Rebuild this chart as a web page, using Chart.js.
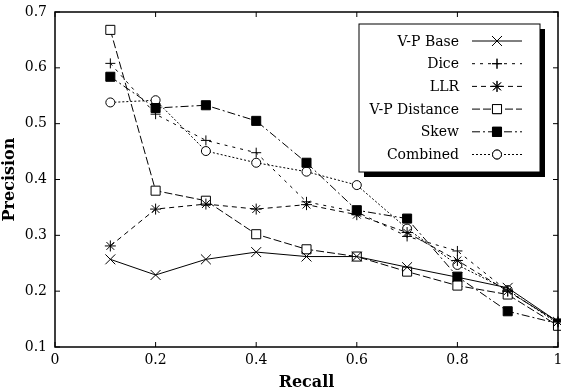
<!DOCTYPE html>
<html>
<head>
<meta charset="utf-8">
<script src="https://cdn.jsdelivr.net/npm/chart.js@4/dist/chart.umd.min.js"></script>
<style>
  html, body { margin: 0; padding: 0; background: #fff; }
  #wrap { width: 561px; height: 392px; }
</style>
</head>
<body>
<div id="wrap"><canvas id="c" width="561" height="392"></canvas></div>
<script>
// values
const recall = [0.11, 0.2, 0.3, 0.4, 0.5, 0.6, 0.7, 0.8, 0.9, 1.0];
const vpBase = [0.257, 0.229, 0.257, 0.270, 0.262, 0.262, 0.243, 0.225, 0.206, 0.145];
const dice = [0.608, 0.517, 0.470, 0.448, 0.360, 0.342, 0.298, 0.272, 0.200, 0.145];
const llr = [0.281, 0.347, 0.356, 0.347, 0.355, 0.337, 0.305, 0.255, 0.200, 0.145];
const vpDistance = [0.668, 0.380, 0.362, 0.302, 0.275, 0.262, 0.235, 0.210, 0.194, 0.138];
const skew = [0.584, 0.528, 0.533, 0.505, 0.430, 0.345, 0.330, 0.226, 0.164, 0.142];
const combined = [0.538, 0.542, 0.451, 0.430, 0.414, 0.390, 0.312, 0.247, 0.202, 0.142];

const seriesNames = ['V-P Base', 'Dice', 'LLR', 'V-P Distance', 'Skew', 'Combined'];
const xTicks = [0, 0.2, 0.4, 0.6, 0.8, 1];
const yTicks = [0.1, 0.2, 0.3, 0.4, 0.5, 0.6, 0.7];

const FONT = '"DejaVu Serif", "Liberation Serif", serif';

const pts = ys => recall.map((r, i) => ({ x: r, y: ys[i] }));

function ds(label, ys, style, radius, fill, dash) {
  return {
    label, data: pts(ys),
    borderColor: '#000', borderWidth: 1, borderDash: dash,
    pointStyle: style, pointRadius: radius, pointBorderWidth: 1,
    pointBackgroundColor: fill, pointBorderColor: '#000',
    tension: 0, fill: false, clip: false
  };
}

const datasets = [
  ds(seriesNames[0], vpBase, 'crossRot', 7, '#000', []),
  ds(seriesNames[1], dice, 'cross', 5, '#000', [3, 5]),
  ds(seriesNames[2], llr, 'star', 5.5, '#000', [5, 4]),
  ds(seriesNames[3], vpDistance, 'rect', 6.4, '#fff', [8, 3]),
  ds(seriesNames[4], skew, 'rect', 6.4, '#000', [8, 3, 2, 3]),
  ds(seriesNames[5], combined, 'circle', 4.5, '#fff', [2, 2])
];

// inward ticks + top/right frame, and the boxed legend with drop shadow
const framePlugin = {
  id: 'frame',
  afterDraw(chart) {
    const { ctx, chartArea: a, scales } = chart;
    ctx.save();
    ctx.strokeStyle = '#000';
    ctx.lineWidth = 1.5;
    ctx.setLineDash([]);
    ctx.strokeRect(a.left, a.top, a.right - a.left, a.bottom - a.top);
    ctx.lineWidth = 1;
    ctx.beginPath();
    xTicks.forEach(v => {
      const x = scales.x.getPixelForValue(v);
      ctx.moveTo(x, a.bottom); ctx.lineTo(x, a.bottom - 5);
      ctx.moveTo(x, a.top); ctx.lineTo(x, a.top + 5);
    });
    yTicks.forEach(v => {
      const y = scales.y.getPixelForValue(v);
      ctx.moveTo(a.left, y); ctx.lineTo(a.left + 5, y);
      ctx.moveTo(a.right, y); ctx.lineTo(a.right - 5, y);
    });
    ctx.stroke();

    // legend
    const bx = 359, by = 24, bw = 181, bh = 148;
    ctx.fillStyle = '#000';
    ctx.fillRect(bx + 5, by + 5, bw, bh);
    ctx.fillStyle = '#fff';
    ctx.fillRect(bx, by, bw, bh);
    ctx.lineWidth = 1;
    ctx.strokeRect(bx, by, bw, bh);
    ctx.font = '14px ' + FONT;
    ctx.textAlign = 'right';
    ctx.textBaseline = 'middle';
    chart.data.datasets.forEach((d, i) => {
      const y = 41 + i * 22.7;
      ctx.fillStyle = '#000';
      ctx.fillText(d.label, 459, y + 1);
      ctx.beginPath();
      ctx.setLineDash(d.borderDash);
      ctx.lineWidth = 1;
      ctx.moveTo(472, y); ctx.lineTo(522, y);
      ctx.stroke();
      ctx.setLineDash([]);
      ctx.fillStyle = d.pointBackgroundColor;
      Chart.helpers.drawPoint(ctx, {
        pointStyle: d.pointStyle, radius: d.pointRadius, borderWidth: 1, rotation: 0
      }, 497, y);
      if (d.pointStyle === 'rect' || d.pointStyle === 'circle') ctx.fill();
      ctx.stroke();
    });
    ctx.restore();
  }
};

new Chart(document.getElementById('c'), {
  type: 'line',
  data: { datasets },
  options: {
    responsive: false,
    animation: false,
    layout: { autoPadding: false, padding: { top: 12, right: 3, left: 0, bottom: 0 } },
    plugins: { legend: { display: false }, tooltip: { enabled: false } },
    scales: {
      x: {
        type: 'linear', min: 0, max: 1,
        afterFit(s) { s.height = 45; s.paddingRight = 0; s.paddingLeft = 0; },
        afterBuildTicks(s) { s.ticks = xTicks.map(v => ({ value: v })); },
        grid: { drawOnChartArea: false, drawTicks: false },
        border: { display: false },
        ticks: {
          padding: 5, color: '#000', maxRotation: 0,
          font: { family: FONT, size: 14 },
          callback: v => String(v)
        },
        title: {
          display: true, text: 'Recall', color: '#000', padding: { top: 0, bottom: 0 },
          font: { family: FONT, size: 16, weight: 'bold' }
        }
      },
      y: {
        min: 0.1, max: 0.7,
        afterFit(s) { s.width = 55; s.paddingTop = 0; s.paddingBottom = 0; },
        afterBuildTicks(s) { s.ticks = yTicks.map(v => ({ value: v })); },
        grid: { drawOnChartArea: false, drawTicks: false },
        border: { display: false },
        ticks: {
          padding: 8, color: '#000',
          font: { family: FONT, size: 14 },
          callback: v => v.toFixed(1)
        },
        title: {
          display: true, text: 'Precision', color: '#000', padding: { top: 0, bottom: 2 },
          font: { family: FONT, size: 16, weight: 'bold' }
        }
      }
    }
  },
  plugins: [framePlugin]
});
</script>
</body>
</html>
